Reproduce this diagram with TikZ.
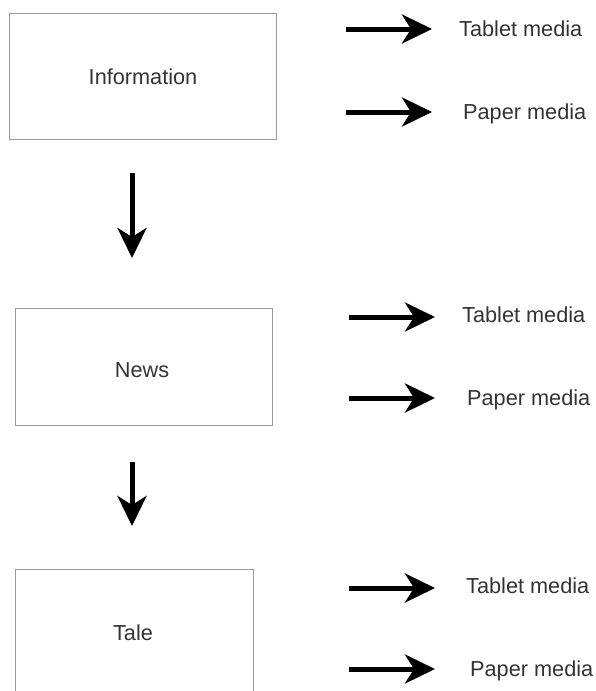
\documentclass[tikz,border=0pt]{standalone}
\usepackage{fontspec}
\setmainfont{Liberation Sans}
\usetikzlibrary{arrows.meta}
\begin{document}
\begin{tikzpicture}[x=1pt,y=-1pt,
  box/.style={draw=black!40, line width=1pt, fill=none},
  lbl/.style={font=\fontsize{21.7}{25}\selectfont, text=black!80, inner sep=0pt},
  bigarrow/.style={line width=5pt, -{Stealth[length=30pt,width=29pt,inset=9pt]}}]
\useasboundingbox (0,0) rectangle (595,691);
\clip (0,0) rectangle (595,691);
% boxes
\node[box, minimum width=267pt, minimum height=126pt, anchor=north west] (info) at (9,13) {};
\node[lbl] at (info.center) {Information};
\node[box, minimum width=257pt, minimum height=117pt, anchor=north west] (news) at (15,308) {};
\node[lbl] at (142,370) {News};
\node[box, minimum width=238pt, minimum height=140pt, anchor=north west] (tale) at (15,569) {};
\node[lbl] at (133,633) {Tale};
% down arrows
\coordinate (d1s) at (132,173); \coordinate (d1e) at (132,258);
\coordinate (d2s) at (132,462); \coordinate (d2e) at (132,526);
\draw[bigarrow] (d1s) -- (d1e);
\draw[bigarrow] (d2s) -- (d2e);
% right arrows and labels
\node[lbl, anchor=west] (t1) at (459,29) {Tablet media};
\node[lbl, anchor=west] (p1) at (463,114) {Paper media};
\node[lbl, anchor=west] (t2) at (462,315) {Tablet media};
\node[lbl, anchor=west] (p2) at (467,400) {Paper media};
\node[lbl, anchor=west] (t3) at (466,586) {Tablet media};
\node[lbl, anchor=west] (p3) at (470,671) {Paper media};
\coordinate (a1s) at (346,29); \coordinate (a1e) at (432,29);
\coordinate (b1s) at (346,112); \coordinate (b1e) at (432,112);
\coordinate (a2s) at (349,317); \coordinate (a2e) at (435,317);
\coordinate (b2s) at (349,398); \coordinate (b2e) at (435,398);
\coordinate (a3s) at (349,588); \coordinate (a3e) at (435,588);
\coordinate (b3s) at (349,669); \coordinate (b3e) at (435,669);
\foreach \s/\e in {a1s/a1e,b1s/b1e,a2s/a2e,b2s/b2e,a3s/a3e,b3s/b3e}
  \draw[bigarrow] (\s) -- (\e);
\end{tikzpicture}
\end{document}
